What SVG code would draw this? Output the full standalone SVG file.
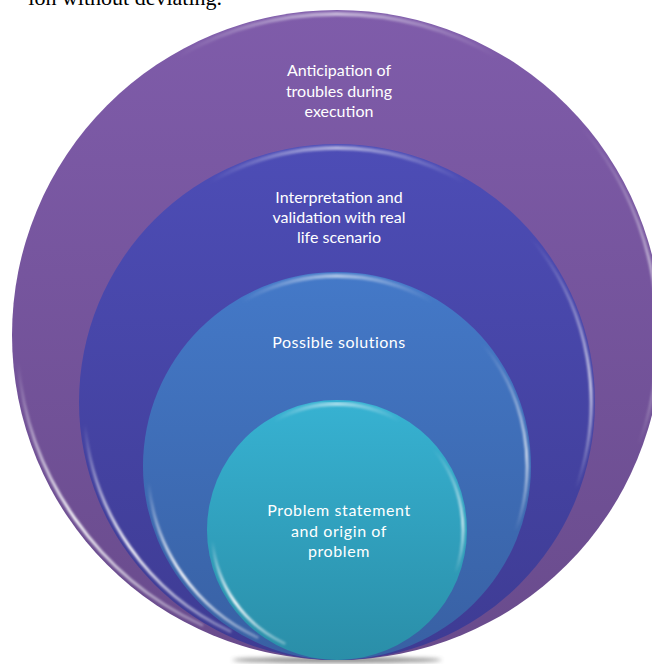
<svg xmlns="http://www.w3.org/2000/svg" width="652" height="664" viewBox="0 0 652 664">
  <defs>
    <linearGradient id="g1" x1="0" y1="0" x2="0" y2="1">
      <stop offset="0" stop-color="#7F5CAA"/>
      <stop offset="1" stop-color="#694B8C"/>
    </linearGradient>
    <linearGradient id="g2" x1="0" y1="0" x2="0" y2="1">
      <stop offset="0" stop-color="#4D4DB6"/>
      <stop offset="1" stop-color="#3E3B93"/>
    </linearGradient>
    <linearGradient id="g3" x1="0" y1="0" x2="0" y2="1">
      <stop offset="0" stop-color="#4479C8"/>
      <stop offset="1" stop-color="#3860A3"/>
    </linearGradient>
    <linearGradient id="g4" x1="0" y1="0" x2="0" y2="1">
      <stop offset="0" stop-color="#37B2D2"/>
      <stop offset="1" stop-color="#2A8EA8"/>
    </linearGradient>
    <linearGradient id="hTop" x1="0" y1="0" x2="1" y2="0">
      <stop offset="0" stop-color="#ffffff" stop-opacity="0"/>
      <stop offset="0.5" stop-color="#ffffff" stop-opacity="0.55"/>
      <stop offset="1" stop-color="#ffffff" stop-opacity="0"/>
    </linearGradient>
    <linearGradient id="hLow" x1="0" y1="0" x2="0" y2="1">
      <stop offset="0" stop-color="#ffffff" stop-opacity="0"/>
      <stop offset="0.6" stop-color="#ffffff" stop-opacity="0.95"/>
      <stop offset="1" stop-color="#ffffff" stop-opacity="0.3"/>
    </linearGradient>
    <linearGradient id="hRight" x1="0" y1="0" x2="0" y2="1">
      <stop offset="0" stop-color="#ffffff" stop-opacity="0"/>
      <stop offset="0.6" stop-color="#ffffff" stop-opacity="0.7"/>
      <stop offset="1" stop-color="#ffffff" stop-opacity="0"/>
    </linearGradient>
    <filter id="blur1" x="-10%" y="-10%" width="120%" height="120%">
      <feGaussianBlur stdDeviation="1"/>
    </filter>
    <filter id="blur3" x="-20%" y="-200%" width="140%" height="500%">
      <feGaussianBlur stdDeviation="2"/>
    </filter>
  </defs>
  <style>
    .lbl { font-family: Lato, "Open Sans", "Liberation Sans", sans-serif; font-size: 16px; fill: #ffffff; text-anchor: middle; }
    .hl { fill: none; stroke-linecap: round; filter: url(#blur1); }
  </style>

  <text x="222" y="5" font-family="'Liberation Serif', serif" font-size="22" text-anchor="end" fill="#000000">ion without deviating.</text>

  <ellipse cx="337" cy="660" rx="105" ry="3" fill="#444444" opacity="0.6" filter="url(#blur3)"/>

  <g id="node-anticipation">
    <circle cx="337" cy="335" r="325" fill="url(#g1)"/>
    <path class="hl" d="M176.5 57 A321 321 0 0 1 497.5 57" stroke="url(#hTop)" stroke-width="4"/>
    <path class="hl" d="M201.8 625 A320 320 0 0 1 18.2 362.9" stroke="url(#hLow)" stroke-width="3"/>
    <path class="hl" d="M582.9 128.6 A321 321 0 0 1 638.7 444.8" stroke="url(#hRight)" stroke-width="3"/>
    <text class="lbl" x="339" y="76">Anticipation of</text>
    <text class="lbl" x="339" y="97">troubles during</text>
    <text class="lbl" x="339" y="117">execution</text>
  </g>

  <g id="node-interpretation">
    <circle cx="337" cy="402" r="258" fill="url(#g2)"/>
    <path class="hl" d="M210 182 A254 254 0 0 1 464 182" stroke="url(#hTop)" stroke-width="4"/>
    <path class="hl" d="M230.1 631.3 A253 253 0 0 1 85 424.1" stroke="url(#hLow)" stroke-width="3"/>
    <path class="hl" d="M531.6 238.7 A254 254 0 0 1 575.8 488.9" stroke="url(#hRight)" stroke-width="3"/>
    <text class="lbl" x="339" y="203">Interpretation and</text>
    <text class="lbl" x="339" y="223">validation with real</text>
    <text class="lbl" x="339" y="243">life scenario</text>
  </g>

  <g id="node-solutions">
    <circle cx="337" cy="466" r="194" fill="url(#g3)"/>
    <path class="hl" d="M242 301.5 A190 190 0 0 1 432 301.5" stroke="url(#hTop)" stroke-width="4"/>
    <path class="hl" d="M257.1 637.3 A189 189 0 0 1 148.7 482.5" stroke="url(#hLow)" stroke-width="3"/>
    <path class="hl" d="M482.5 343.8 A190 190 0 0 1 515.6 531" stroke="url(#hRight)" stroke-width="3"/>
    <text class="lbl" x="339" y="348" letter-spacing="0.5">Possible solutions</text>
  </g>

  <g id="node-problem">
    <circle cx="337" cy="530" r="130" fill="url(#g4)"/>
    <path class="hl" d="M274 421 A126 126 0 0 1 400 421" stroke="url(#hTop)" stroke-width="4"/>
    <path class="hl" d="M284.2 643.3 A125 125 0 0 1 212.5 540.9" stroke="url(#hLow)" stroke-width="3"/>
    <path class="hl" d="M433.5 449 A126 126 0 0 1 455.4 573.1" stroke="url(#hRight)" stroke-width="3"/>
    <text class="lbl" x="339" y="516" letter-spacing="0.6">Problem statement</text>
    <text class="lbl" x="339" y="537" letter-spacing="0.6">and origin of</text>
    <text class="lbl" x="339" y="557" letter-spacing="0.6">problem</text>
  </g>

  <g id="connectors"/>
</svg>
